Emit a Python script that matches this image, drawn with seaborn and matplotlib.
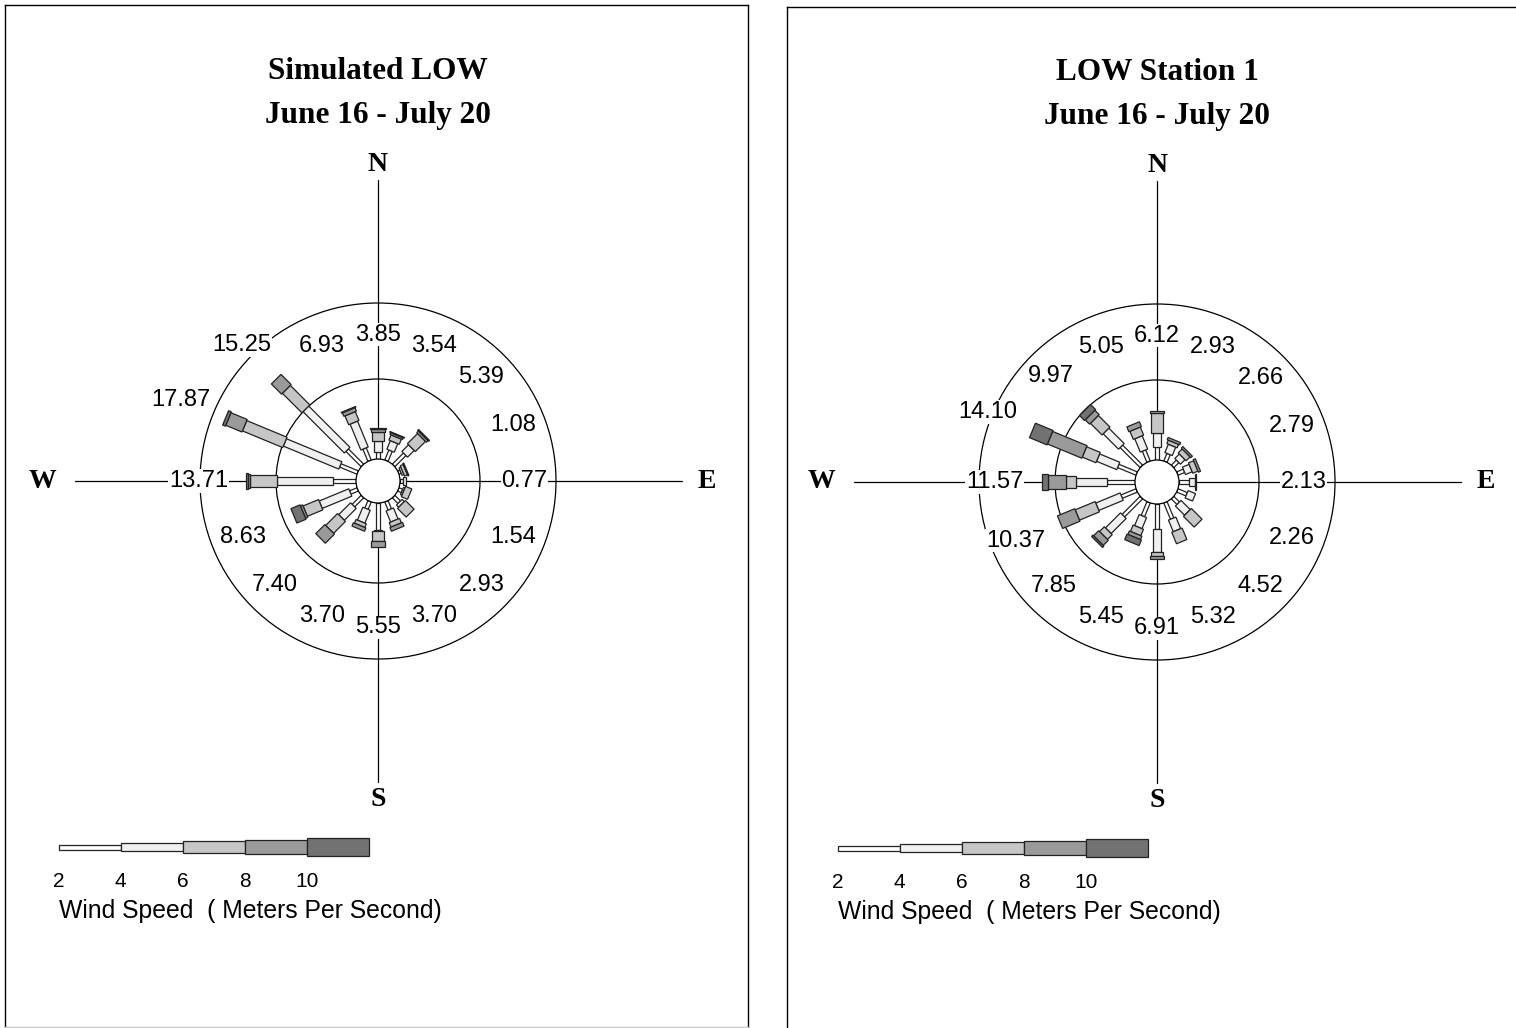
import numpy as np
import matplotlib

matplotlib.use("Agg")
import matplotlib.pyplot as plt
from matplotlib.patches import Polygon, Circle
import seaborn as sns

# 16 compass directions, clockwise from north
directions = ["N", "NNE", "NE", "ENE", "E", "ESE", "SE", "SSE",
              "S", "SSW", "SW", "WSW", "W", "WNW", "NW", "NNW"]
dir_angles = [22.5 * i for i in range(16)]
speed_ticks = [2, 4, 6, 8, 10]

# Simulated LOW -- percent frequency per direction, split by speed class
sim_total = [3.85, 3.54, 5.39, 1.08, 0.77, 1.54, 2.93, 3.70,
             5.55, 3.70, 7.40, 8.63, 13.71, 17.87, 15.25, 6.93]
sim_2_4 = [0.85, 1.35, 1.97, 0.30, 0.40, 0.50, 1.00, 1.10,
           3.40, 1.00, 1.60, 1.00, 2.84, 2.35, 2.70, 1.65]
sim_4_6 = [1.35, 1.15, 1.18, 0.25, 0.37, 0.20, 0.40, 1.50,
           0.10, 1.75, 2.10, 4.00, 7.00, 7.50, 7.30, 3.50]
sim_6_8 = [1.20, 0.70, 1.80, 0.40, 0.00, 0.84, 1.53, 0.60,
           1.25, 0.50, 2.10, 2.10, 3.42, 5.45, 3.45, 1.20]
sim_8_10 = [0.35, 0.24, 0.30, 0.13, 0.00, 0.00, 0.00, 0.50,
            0.80, 0.45, 1.60, 0.30, 0.25, 2.20, 1.80, 0.48]
sim_10up = [0.10, 0.10, 0.14, 0.00, 0.00, 0.00, 0.00, 0.00,
            0.00, 0.00, 0.00, 1.23, 0.20, 0.37, 0.00, 0.10]

# LOW Station 1 -- observed
obs_total = [6.12, 2.93, 2.66, 2.79, 2.13, 2.26, 4.52, 5.32,
             6.91, 5.45, 7.85, 10.37, 11.57, 14.10, 9.97, 5.05]
obs_2_4 = [1.65, 1.03, 0.90, 0.90, 1.29, 1.26, 1.00, 2.20,
           3.12, 1.86, 3.20, 2.03, 3.56, 2.49, 3.55, 1.50]
obs_4_6 = [1.67, 1.13, 0.80, 0.90, 0.76, 1.00, 1.63, 1.57,
           2.90, 1.50, 2.66, 3.30, 3.78, 2.73, 2.72, 1.80]
obs_6_8 = [2.50, 0.47, 0.70, 0.70, 0.00, 0.00, 1.89, 1.55,
           0.45, 0.87, 0.85, 2.70, 1.27, 1.85, 2.05, 1.10]
obs_8_10 = [0.30, 0.30, 0.26, 0.29, 0.00, 0.00, 0.00, 0.00,
            0.44, 0.47, 0.90, 2.34, 2.31, 4.65, 0.77, 0.65]
obs_10up = [0.00, 0.00, 0.00, 0.00, 0.08, 0.00, 0.00, 0.00,
            0.00, 0.75, 0.24, 0.00, 0.65, 2.38, 0.88, 0.00]

# styling for the five speed classes (thin -> thick, light -> dark)
class_colors = ["#ffffff", "#f0f0f0", "#c6c6c6", "#9a9a9a", "#727272"]
spoke_widths = [0.45, 1.0, 1.4, 1.7, 1.95]   # in percent units
legend_widths = [0.56, 1.0, 1.5, 1.75, 2.25]
edge = "#222222"

R0 = 2.75          # radius of calm circle (percent units)
RINGS = [10.0, 19.5]
AXIS_HALF = 37.6

sns.set_style("white")
plt.rcParams["font.family"] = ["Liberation Sans", "DejaVu Sans"]
plt.rcParams["text.color"] = "black"
SERIF = ["Liberation Serif", "DejaVu Serif"]


def rect(theta_deg, r_a, r_b, half_w):
    t = np.deg2rad(theta_deg)
    u = np.array([np.sin(t), np.cos(t)])
    v = np.array([np.cos(t), -np.sin(t)])
    return [r_a * u + half_w * v, r_b * u + half_w * v,
            r_b * u - half_w * v, r_a * u - half_w * v]


def draw_rose(ax, totals, classes, title):
    # compass axes
    ax.plot([0, 0], [-AXIS_HALF, AXIS_HALF], color="black", lw=0.9, zorder=1)
    ax.plot([-AXIS_HALF - 0.3, AXIS_HALF + 0.4], [0, 0], color="black", lw=0.9, zorder=1)
    for rr in RINGS:
        ax.add_patch(Circle((0, 0), R0 + rr, fill=False, ec="black", lw=0.9, zorder=1))

    # spokes
    for i, ang in enumerate(dir_angles):
        start = R0
        for k in range(5):
            val = classes[k][i]
            if val <= 0:
                continue
            poly = Polygon(rect(ang, start, start + val, spoke_widths[k] / 2),
                           closed=True, fc=class_colors[k], ec=edge, lw=0.9,
                           zorder=3 + k * 0.01)
            ax.add_patch(poly)
            start += val

    ax.add_patch(Circle((0, 0), R0, fc="white", ec="black", lw=0.9, zorder=5))

    # percent labels
    for i, ang in enumerate(dir_angles):
        rl = max(18.3, R0 + totals[i] + 6.0)
        t = np.deg2rad(ang)
        ax.text(rl * np.sin(t), rl * np.cos(t), "%.2f" % totals[i],
                ha="center", va="center", fontsize=17, zorder=6,
                bbox=dict(fc="white", ec="none", pad=0.5))

    # compass letters
    for lab, x, y in [("N", 0, 39.6), ("S", 0, -39.8), ("W", -42.0, 0), ("E", 41.1, 0)]:
        ax.text(x, y, lab, ha="center", va="center", fontsize=20,
                fontweight="bold", family=SERIF, zorder=6)

    # title
    ax.text(0, 51.2, title, ha="center", va="center", fontsize=22.5,
            fontweight="bold", family=SERIF)
    ax.text(0, 45.7, "June 16 - July 20", ha="center", va="center",
            fontsize=22.5, fontweight="bold", family=SERIF)

    # speed legend
    x0 = -39.9
    step = 7.75
    yl = -45.8
    for k, sp in enumerate(speed_ticks):
        xa = x0 + (sp - speed_ticks[0]) / 2 * step
        h = legend_widths[k] / 2
        ax.fill([xa, xa + step, xa + step, xa], [yl - h, yl - h, yl + h, yl + h],
                fc=class_colors[k], ec=edge, lw=0.9, zorder=3)
        ax.text(xa, yl - 4.3, str(sp), ha="center", va="center", fontsize=15)
    ax.text(x0, yl - 7.9, "Wind Speed  ( Meters Per Second)", ha="left",
            va="center", fontsize=17.8)

    ax.set_xticks([])
    ax.set_yticks([])
    for sp in ax.spines.values():
        sp.set_color("black")
        sp.set_linewidth(1.0)


W, H = 1516, 1028
S = 8.0  # pixels per percent unit
fig = plt.figure(figsize=(W / 100, H / 100), dpi=100)

# left panel (pixel box 5..748 x 5..1027, rose centre 378,481)
axl = fig.add_axes([5 / W, (H - 1027) / H, 743 / W, 1022 / H])
axl.set_xlim((5 - 378) / S, (748 - 378) / S)
axl.set_ylim((481 - 1027) / S, (481 - 5) / S)
draw_rose(axl, sim_total,
          [sim_2_4, sim_4_6, sim_6_8, sim_8_10, sim_10up], "Simulated LOW")
axl.spines["bottom"].set_color("#c8c8c8")

# right panel (pixel box 787..1530 x 7..1040, rose centre 1157,482)
axr = fig.add_axes([787 / W, (H - 1040) / H, 743 / W, 1033 / H])
axr.set_xlim((787 - 1157) / S, (1530 - 1157) / S)
axr.set_ylim((482 - 1040) / S, (482 - 7) / S)
draw_rose(axr, obs_total,
          [obs_2_4, obs_4_6, obs_6_8, obs_8_10, obs_10up], "LOW Station 1")

fig.savefig("out.png", dpi=100)
